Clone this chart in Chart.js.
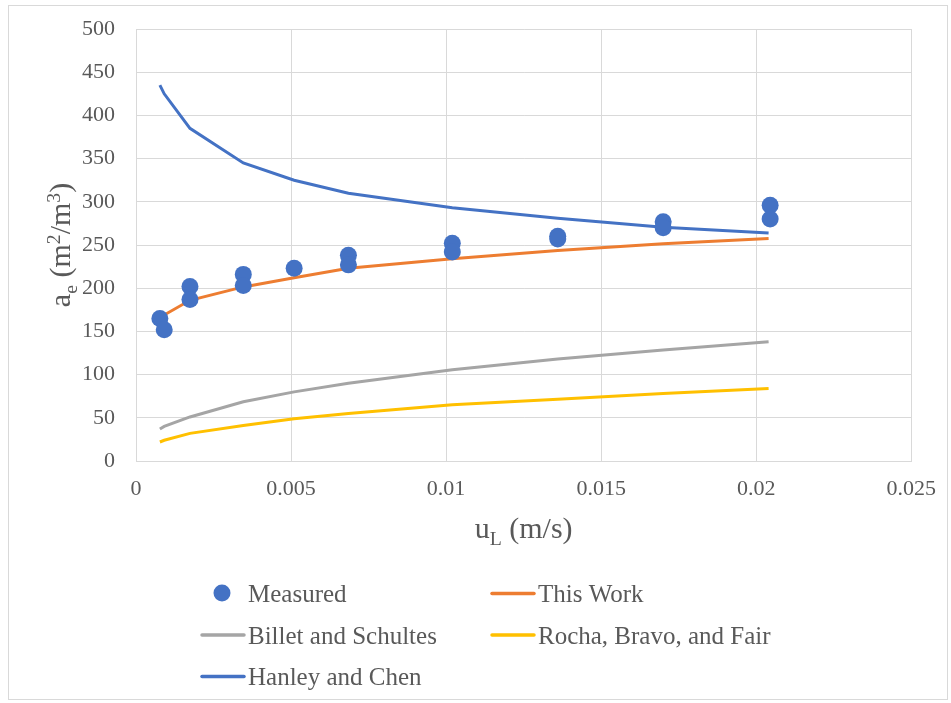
<!DOCTYPE html>
<html>
<head>
    <title>Effective interfacial area vs liquid velocity</title>
    <script src="https://cdn.jsdelivr.net/npm/chart.js"></script>
    <style>
        body {
            margin: 0;
            background-color: white;
        }
        #wrap {
            width: 951px;
            height: 703px;
        }
    </style>
</head>
<body>
    <div id="wrap">
        <canvas id="aeChart" width="951" height="703"></canvas>
    </div>

    <script>
        // values
        const seriesNames = ['Measured', 'This Work', 'Billet and Schultes', 'Rocha, Bravo, and Fair', 'Hanley and Chen'];

        const uL = [0.00077, 0.00091, 0.00174, 0.00346, 0.0051, 0.00685, 0.0102, 0.0136, 0.0170, 0.0204];
        const thisWork = [167, 169, 186, 201.5, 212, 223, 234, 243.5, 251.5, 257.5];
        const billetSchultes = [37, 40, 51, 68.5, 80, 90, 105.5, 118, 128.5, 138];
        const rochaBravoFair = [22, 24, 32, 41, 49, 55, 65, 71.5, 78, 84];
        const hanleyChen = [435, 425, 385, 345, 325, 310, 293, 281, 270.5, 264];

        const measuredX = [0.00077, 0.00091, 0.00174, 0.00174, 0.00346, 0.00346, 0.0051, 0.00685, 0.00685,
                           0.0102, 0.0102, 0.0136, 0.0136, 0.0170, 0.0170, 0.02045, 0.02045];
        const measuredY = [165, 152, 202, 187, 216, 203, 223, 238, 227, 252, 242, 260, 257, 277, 270, 296, 280];

        const xTicks = [0, 0.005, 0.01, 0.015, 0.02, 0.025];
        const yTicks = [0, 50, 100, 150, 200, 250, 300, 350, 400, 450, 500];

        const colors = ['#4472C4', '#ED7D31', '#A5A5A5', '#FFC000', '#4472C4'];
        const textColor = '#595959';
        const fontFamily = '"Liberation Serif", "Times New Roman", serif';

        function pairs(xs, ys) {
            return xs.map((x, i) => ({ x: x, y: ys[i] }));
        }

        function lineSet(name, ys, color) {
            return {
                label: name,
                data: pairs(uL, ys),
                showLine: true,
                borderColor: color,
                backgroundColor: color,
                borderWidth: 3,
                pointRadius: 0,
                tension: 0
            };
        }

        // draws text with sub/superscripts, parts = [[text, 'sub'|'sup'|null], ...]
        function richWidth(ctx, parts, size) {
            let w = 0;
            parts.forEach(p => {
                const s = p[1] ? size * 0.66 : size;
                ctx.font = s + 'px ' + fontFamily;
                w += ctx.measureText(p[0]).width;
            });
            return w;
        }

        function drawRich(ctx, parts, x, y, size) {
            let cx = x;
            parts.forEach(p => {
                const s = p[1] ? size * 0.66 : size;
                let dy = 0;
                if (p[1] === 'sub') dy = size * 0.22;
                if (p[1] === 'sup') dy = -size * 0.33;
                ctx.font = s + 'px ' + fontFamily;
                ctx.fillText(p[0], cx, y + dy);
                cx += ctx.measureText(p[0]).width;
            });
        }

        const extrasPlugin = {
            id: 'extras',
            beforeDraw(chart) {
                const ctx = chart.ctx;
                ctx.save();
                ctx.strokeStyle = '#d9d9d9';
                ctx.lineWidth = 1;
                ctx.strokeRect(8.5, 5.5, 939, 694);
                ctx.restore();
            },
            afterDraw(chart) {
                const ctx = chart.ctx;
                const area = chart.chartArea;
                ctx.save();
                ctx.fillStyle = textColor;
                ctx.textAlign = 'left';
                ctx.textBaseline = 'alphabetic';

                // x axis title
                const xParts = [['u', null], ['L', 'sub'], [' (m/s)', null]];
                const xw = richWidth(ctx, xParts, 30);
                drawRich(ctx, xParts, (area.left + area.right) / 2 - xw / 2, 538, 30);

                // y axis title
                const yParts = [['a', null], ['e', 'sub'], [' (m', null], ['2', 'sup'], ['/m', null], ['3', 'sup'], [')', null]];
                const yw = richWidth(ctx, yParts, 30);
                ctx.save();
                ctx.translate(70, (area.top + area.bottom) / 2);
                ctx.rotate(-Math.PI / 2);
                drawRich(ctx, yParts, -yw / 2, 0, 30);
                ctx.restore();

                // legend
                const items = [
                    { col: 0, row: 0, marker: 'dot' },
                    { col: 1, row: 0, marker: 'line' },
                    { col: 0, row: 1, marker: 'line' },
                    { col: 1, row: 1, marker: 'line' },
                    { col: 0, row: 2, marker: 'line' }
                ];
                items.forEach((it, i) => {
                    const y = 593 + it.row * 41.5;
                    const lx = it.col === 0 ? 202 : 492;
                    const tx = it.col === 0 ? 248 : 538;
                    ctx.fillStyle = colors[i];
                    ctx.strokeStyle = colors[i];
                    if (it.marker === 'dot') {
                        ctx.beginPath();
                        ctx.arc(222, y, 8.5, 0, Math.PI * 2);
                        ctx.fill();
                    } else {
                        ctx.lineWidth = 3.5;
                        ctx.lineCap = 'round';
                        ctx.beginPath();
                        ctx.moveTo(lx, y + 0.5);
                        ctx.lineTo(lx + 42, y + 0.5);
                        ctx.stroke();
                    }
                    ctx.fillStyle = textColor;
                    ctx.font = '25px ' + fontFamily;
                    ctx.fillText(seriesNames[i], tx, y + 9);
                });
                ctx.restore();
            }
        };

        const ctx = document.getElementById('aeChart').getContext('2d');
        const aeChart = new Chart(ctx, {
            type: 'scatter',
            data: {
                datasets: [
                    {
                        label: seriesNames[0],
                        data: pairs(measuredX, measuredY),
                        showLine: false,
                        pointRadius: 8.5,
                        pointHoverRadius: 8.5,
                        pointBackgroundColor: colors[0],
                        pointBorderColor: colors[0],
                        pointBorderWidth: 0
                    },
                    lineSet(seriesNames[1], thisWork, colors[1]),
                    lineSet(seriesNames[2], billetSchultes, colors[2]),
                    lineSet(seriesNames[3], rochaBravoFair, colors[3]),
                    lineSet(seriesNames[4], hanleyChen, colors[4])
                ]
            },
            options: {
                responsive: false,
                animation: false,
                devicePixelRatio: 1,
                layout: {
                    padding: { top: 29, right: 39, bottom: 202, left: 0 }
                },
                plugins: {
                    legend: { display: false },
                    tooltip: { enabled: false }
                },
                scales: {
                    x: {
                        type: 'linear',
                        min: 0,
                        max: 0.025,
                        afterBuildTicks: (scale) => {
                            scale.ticks = xTicks.map(v => ({ value: v }));
                        },
                        afterFit: (scale) => { scale.height = 40; },
                        ticks: {
                            color: textColor,
                            font: { family: fontFamily, size: 22 },
                            padding: 15,
                            maxRotation: 0,
                            callback: (v) => String(+v.toFixed(3))
                        },
                        grid: { color: '#d9d9d9', lineWidth: 1, drawTicks: false },
                        border: { display: true, color: '#d9d9d9' }
                    },
                    y: {
                        type: 'linear',
                        min: 0,
                        max: 500,
                        afterBuildTicks: (scale) => {
                            scale.ticks = yTicks.map(v => ({ value: v }));
                        },
                        afterFit: (scale) => {
                            scale.width = 136;
                            scale.paddingTop = 0;
                            scale.paddingBottom = 0;
                        },
                        ticks: {
                            color: textColor,
                            font: { family: fontFamily, size: 22 },
                            padding: 21
                        },
                        grid: { color: '#d9d9d9', lineWidth: 1, drawTicks: false },
                        border: { display: true, color: '#d9d9d9' }
                    }
                }
            },
            plugins: [extrasPlugin]
        });
    </script>
</body>
</html>
